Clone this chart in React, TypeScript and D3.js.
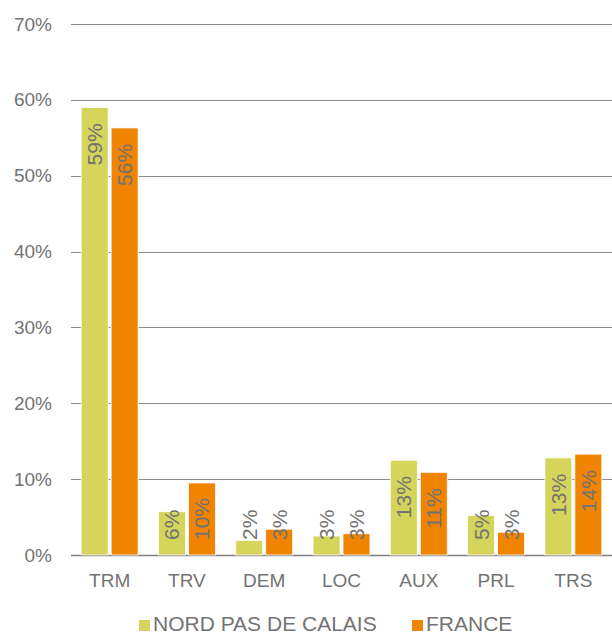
import { useRef, useEffect } from "react";
import * as d3 from "d3";

const categories = ["TRM", "TRV", "DEM", "LOC", "AUX", "PRL", "TRS"];
const seriesNames = ["NORD PAS DE CALAIS", "FRANCE"];
const nordValues = [59.0, 5.7, 1.9, 2.5, 12.5, 5.2, 12.8];
const franceValues = [56.3, 9.5, 3.4, 2.8, 10.9, 3.0, 13.3];
const nordLabels = ["59%", "6%", "2%", "3%", "13%", "5%", "13%"];
const franceLabels = ["56%", "10%", "3%", "3%", "11%", "3%", "14%"];
const yTicks = [0, 10, 20, 30, 40, 50, 60, 70];
const colors = ["#d6d55b", "#f08300"];

export default function App() {
  const ref = useRef<SVGSVGElement>(null);

  useEffect(() => {
    const svg = d3.select(ref.current);
    svg.selectAll("*").remove();

    const width = 612;
    const height = 634;
    const margin = { top: 24, right: 0, bottom: 79, left: 71 };
    const font = "'Liberation Sans', Arial, sans-serif";
    const textColor = "#737373";

    const y = d3.scaleLinear()
      .domain([0, 70])
      .range([height - margin.bottom, margin.top]);

    const x0 = d3.scaleBand()
      .domain(categories)
      .range([margin.left, width - margin.right]);

    const x1 = d3.scaleBand()
      .domain(seriesNames)
      .range([0, x0.bandwidth()])
      .paddingInner(0.1)
      .paddingOuter(0.34);

    // gridlines + tick labels
    svg.append("g")
      .selectAll("line")
      .data(yTicks)
      .enter()
      .append("line")
      .attr("x1", margin.left)
      .attr("x2", width - margin.right)
      .attr("y1", d => Math.round(y(d)) + 0.5)
      .attr("y2", d => Math.round(y(d)) + 0.5)
      .attr("stroke", d => (d === 0 ? "#7f7f7f" : "#8c8c8c"))
      .attr("stroke-width", d => (d === 0 ? 1.5 : 1));

    svg.append("g")
      .selectAll("text")
      .data(yTicks)
      .enter()
      .append("text")
      .attr("x", 52)
      .attr("y", d => y(d))
      .attr("text-anchor", "end")
      .attr("dominant-baseline", "central")
      .attr("font-family", font)
      .attr("font-size", "19px")
      .attr("fill", textColor)
      .text(d => d + "%");

    const rows = categories.map((c, i) => ({
      cat: c,
      vals: [
        { s: seriesNames[0], v: nordValues[i], label: nordLabels[i], color: colors[0] },
        { s: seriesNames[1], v: franceValues[i], label: franceLabels[i], color: colors[1] },
      ],
    }));

    const groups = svg.append("g")
      .selectAll("g")
      .data(rows)
      .enter()
      .append("g")
      .attr("transform", d => `translate(${x0(d.cat)},0)`);

    groups.selectAll("rect")
      .data(d => d.vals)
      .enter()
      .append("rect")
      .attr("x", d => x1(d.s)!)
      .attr("y", d => y(d.v))
      .attr("width", x1.bandwidth())
      .attr("height", d => y(0) - y(d.v))
      .attr("fill", d => d.color)
      .attr("stroke", "#ffffff")
      .attr("stroke-width", 0.8);

    // rotated value labels
    groups.each(function (row) {
      const g = d3.select(this);
      row.vals.forEach(d => {
        const cx = x1(d.s)! + x1.bandwidth() / 2;
        const t = g.append("text")
          .attr("text-anchor", "end")
          .attr("dominant-baseline", "central")
          .attr("font-family", font)
          .attr("font-size", "21px")
          .attr("fill", textColor)
          .text(d.label);
        const len = (t.node() as SVGTextElement).getComputedTextLength();
        const top = Math.min(y(d.v) + 16, y(0) - 15 - len);
        t.attr("transform", `translate(${cx},${top}) rotate(-90)`);
      });
    });

    // category labels
    svg.append("g")
      .selectAll("text")
      .data(categories)
      .enter()
      .append("text")
      .attr("x", d => x0(d)! + x0.bandwidth() / 2)
      .attr("y", 587)
      .attr("text-anchor", "middle")
      .attr("font-family", font)
      .attr("font-size", "19px")
      .attr("fill", textColor)
      .text(d => d);

    // legend
    const legendX = [139, 412];
    seriesNames.forEach((name, i) => {
      svg.append("rect")
        .attr("x", legendX[i])
        .attr("y", 620)
        .attr("width", 11)
        .attr("height", 11)
        .attr("fill", colors[i]);
      svg.append("text")
        .attr("x", legendX[i] + 14)
        .attr("y", 631)
        .attr("font-family", font)
        .attr("font-size", "21px")
        .attr("fill", textColor)
        .text(name);
    });
  }, []);

  return (
    <svg
      ref={ref}
      width={612}
      height={634}
      style={{ position: "absolute", left: 0, top: 0, background: "#fff" }}
    />
  );
}
